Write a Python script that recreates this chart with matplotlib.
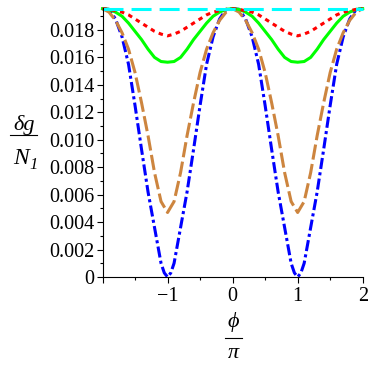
import matplotlib
matplotlib.use("Agg")
from matplotlib import pyplot as plt
from matplotlib.lines import Line2D

# phi / pi sample points
phi = [-2.0, -1.9, -1.8, -1.7, -1.6, -1.5, -1.4, -1.3, -1.2, -1.1, -1.0,
       -0.9, -0.8, -0.7, -0.6, -0.5, -0.4, -0.3, -0.2, -0.1, 0.0,
       0.1, 0.2, 0.3, 0.4, 0.5, 0.6, 0.7, 0.8, 0.9, 1.0,
       1.1, 1.2, 1.3, 1.4, 1.5, 1.6, 1.7, 1.8, 1.9, 2.0]

# blue curve has a narrow bottom, so it gets a few more points there
blue_phi = [-2.0, -1.9, -1.8, -1.7, -1.6, -1.5, -1.4, -1.3, -1.2, -1.1, -1.05, -1.0,
            -0.95, -0.9, -0.8, -0.7, -0.6, -0.5, -0.4, -0.3, -0.2, -0.1, 0.0,
            0.1, 0.2, 0.3, 0.4, 0.5, 0.6, 0.7, 0.8, 0.9, 0.95, 1.0,
            1.05, 1.1, 1.2, 1.3, 1.4, 1.5, 1.6, 1.7, 1.8, 1.9, 2.0]
blue = [0.01955, 0.0195, 0.0188, 0.0175, 0.0155, 0.0125, 0.0093, 0.0062, 0.0036, 0.0010, 0.0003, 0.0,
        0.0003, 0.0010, 0.0036, 0.0062, 0.0093, 0.0125, 0.0155, 0.0175, 0.0188, 0.0195, 0.01955,
        0.0195, 0.0188, 0.0175, 0.0155, 0.0125, 0.0093, 0.0062, 0.0036, 0.0010, 0.0003, 0.0,
        0.0003, 0.0010, 0.0036, 0.0062, 0.0093, 0.0125, 0.0155, 0.0175, 0.0188, 0.0195, 0.01955]

orange = [0.01955, 0.0193, 0.0187, 0.0178, 0.0166, 0.0149, 0.0127, 0.0103, 0.0076, 0.0055, 0.0047,
          0.0055, 0.0076, 0.0103, 0.0127, 0.0149, 0.0166, 0.0178, 0.0187, 0.0193, 0.01955,
          0.0193, 0.0187, 0.0178, 0.0166, 0.0149, 0.0127, 0.0103, 0.0076, 0.0055, 0.0047,
          0.0055, 0.0076, 0.0103, 0.0127, 0.0149, 0.0166, 0.0178, 0.0187, 0.0193, 0.01955]

green = [0.01955, 0.0195, 0.0193, 0.0190, 0.0185, 0.0179, 0.0173, 0.0166, 0.0160, 0.0157, 0.01565,
         0.0157, 0.0160, 0.0166, 0.0173, 0.0179, 0.0185, 0.0190, 0.0193, 0.0195, 0.01955,
         0.0195, 0.0193, 0.0190, 0.0185, 0.0179, 0.0173, 0.0166, 0.0160, 0.0157, 0.01565,
         0.0157, 0.0160, 0.0166, 0.0173, 0.0179, 0.0185, 0.0190, 0.0193, 0.0195, 0.01955]

red = [0.01955, 0.0195, 0.0194, 0.0193, 0.0191, 0.0188, 0.0185, 0.0182, 0.0179, 0.0177, 0.01757,
       0.0177, 0.0179, 0.0182, 0.0185, 0.0188, 0.0191, 0.0193, 0.0194, 0.0195, 0.01955,
       0.0195, 0.0194, 0.0193, 0.0191, 0.0188, 0.0185, 0.0182, 0.0179, 0.0177, 0.01757,
       0.0177, 0.0179, 0.0182, 0.0185, 0.0188, 0.0191, 0.0193, 0.0194, 0.0195, 0.01955]

cyan_phi = [-2.0, 2.0]
cyan = [0.01955, 0.01955]

xticks = [-2, -1, 0, 1, 2]
xticklabels = ["", "\u22121", "0", "1", "2"]
yticks = [0, 0.002, 0.004, 0.006, 0.008, 0.010, 0.012, 0.014, 0.016, 0.018]
yticklabels = ["0", "0.002", "0.004", "0.006", "0.008", "0.010", "0.012", "0.014", "0.016", "0.018"]

plt.rcParams["font.family"] = ["Liberation Serif", "DejaVu Serif"]
plt.rcParams["lines.scale_dashes"] = False

fig = plt.figure(figsize=(3.74, 3.74), dpi=100)
ax = fig.add_axes([102.5 / 374, 97 / 374, 260.2 / 374, 269 / 374])

lw = 2.2
ax.plot(blue_phi, blue, color="#0000ff", lw=lw, dashes=(8, 2.4, 2.2, 2.4), clip_on=False)
ax.plot(phi, orange, color="#cd853f", lw=lw, dashes=(11, 3.2), clip_on=False)
ax.plot(phi, green, color="#00ff00", lw=lw, clip_on=False)
ax.plot(phi, red, color="#ff0000", lw=lw, dashes=(3.2, 3.2), clip_on=False)
ax.plot(cyan_phi, cyan, color="#00ffff", lw=lw, dashes=(14.4, 5.8), clip_on=False)

ax.set_xlim(-2, 2)
ax.set_ylim(0, 0.0196)
ax.spines["top"].set_visible(False)
ax.spines["right"].set_visible(False)
for s in ("left", "bottom"):
    ax.spines[s].set_linewidth(0.8)

ax.set_xticks(xticks)
ax.set_xticklabels(xticklabels)
ax.set_xticks([-1.5, -0.5, 0.5, 1.5], minor=True)
ax.set_yticks(yticks)
ax.set_yticklabels(yticklabels)
ax.set_yticks([0.001, 0.003, 0.005, 0.007, 0.009, 0.011, 0.013, 0.015, 0.017, 0.019], minor=True)
ax.tick_params(axis="both", which="major", direction="out", length=4, width=0.8, labelsize=14.5)
ax.tick_params(axis="both", which="minor", direction="out", length=2.2, width=0.8)
ax.tick_params(axis="y", which="major", pad=2)
ax.tick_params(axis="x", which="major", pad=3)

# y label as a stacked fraction
fig.text(24 / 374, 1 - 125 / 374, "\u03b4g", fontsize=16, style="italic", ha="center", va="center")
fig.add_artist(Line2D([10 / 374, 37 / 374], [1 - 134.5 / 374, 1 - 134.5 / 374], color="black", lw=0.8))
fig.text(21 / 374, 1 - 158 / 374, "N", fontsize=17, style="italic", ha="center", va="center")
fig.text(34 / 374, 1 - 165 / 374, "1", fontsize=12, style="italic", ha="center", va="center")

# x label as a stacked fraction
fig.text(233 / 374, 1 - 322 / 374, "\u03d5", fontsize=16, style="italic", ha="center", va="center")
fig.add_artist(Line2D([225 / 374, 242 / 374], [1 - 338 / 374, 1 - 338 / 374], color="black", lw=0.8))
fig.text(233 / 374, 1 - 354 / 374, "\u03c0", fontsize=16, style="italic", ha="center", va="center")

fig.savefig("out.png", dpi=100)
